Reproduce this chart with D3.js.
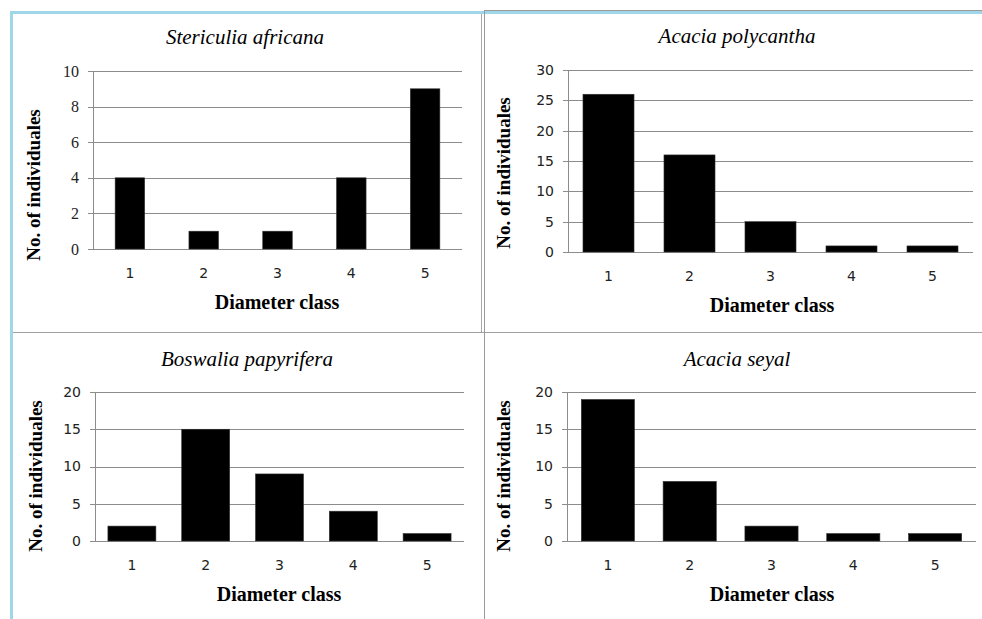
<!DOCTYPE html>
<html>
<head>
<meta charset="utf-8">
<script src="https://cdn.jsdelivr.net/npm/d3@7"></script>
<style>
  body { margin: 0; background: #fff; }
  svg { display: block; }
</style>
</head>
<body>
<div id="chart"></div>
<script>
const width = 982;
const height = 619;

// ---- data ----
const classes = ["1", "2", "3", "4", "5"];
const titles = ["Stericulia africana", "Acacia polycantha", "Boswalia papyrifera", "Acacia seyal"];
const sterculia = [4, 1, 1, 4, 9];
const polycantha = [26, 16, 5, 1, 1];
const boswalia = [2, 15, 9, 4, 1];
const seyal = [19, 8, 2, 1, 1];
const yMaxes = [10, 30, 20, 20];
const yTicks = [[0, 2, 4, 6, 8, 10], [0, 5, 10, 15, 20, 25, 30], [0, 5, 10, 15, 20], [0, 5, 10, 15, 20]];
const xTitle = "Diameter class";
const yTitle = "No. of individuales";

const series = [sterculia, polycantha, boswalia, seyal];

// layout of each panel (plot box in page pixels)
const panels = [
  {x0: 93, x1: 462, y0: 71, y1: 249, pad: 0.6, tickFont: "'Liberation Serif', serif", tickSize: 16, cx: 245, ty: 37, ax: 277, yt: 33, yc: 185},
  {x0: 568, x1: 973, y0: 70, y1: 252, pad: 0.37, tickFont: "'DejaVu Sans', sans-serif", tickSize: 14, cx: 737, ty: 36, ax: 772, yt: 503, yc: 173},
  {x0: 95, x1: 464, y0: 392, y1: 541, pad: 0.35, tickFont: "'DejaVu Sans', sans-serif", tickSize: 14, cx: 247, ty: 359, ax: 279, yt: 35, yc: 476},
  {x0: 567, x1: 976, y0: 392, y1: 541, pad: 0.35, tickFont: "'DejaVu Sans', sans-serif", tickSize: 14, cx: 737, ty: 359, ax: 772, yt: 503, yc: 476}
];

const svg = d3.select("#chart")
  .append("svg")
    .attr("width", width)
    .attr("height", height);

/* ---------------- frame lines ---------------- */
const frame = svg.append("g");
// gray top line on right half
frame.append("line").attr("x1", 484).attr("x2", 982).attr("y1", 10.5).attr("y2", 10.5)
  .attr("stroke", "#9a9a9a").attr("stroke-width", 1);
// blue top + left
frame.append("line").attr("x1", 10).attr("x2", 982).attr("y1", 12.5).attr("y2", 12.5)
  .attr("stroke", "#9fd6e8").attr("stroke-width", 3);
frame.append("line").attr("x1", 11.5).attr("x2", 11.5).attr("y1", 11).attr("y2", 619)
  .attr("stroke", "#9fd6e8").attr("stroke-width", 3);
// gray dividers
frame.append("line").attr("x1", 481.5).attr("x2", 481.5).attr("y1", 14).attr("y2", 332)
  .attr("stroke", "#a8a8a8").attr("stroke-width", 1);
frame.append("line").attr("x1", 484.5).attr("x2", 484.5).attr("y1", 11).attr("y2", 619)
  .attr("stroke", "#9a9a9a").attr("stroke-width", 1);
frame.append("line").attr("x1", 13).attr("x2", 982).attr("y1", 332.5).attr("y2", 332.5)
  .attr("stroke", "#a0a0a0").attr("stroke-width", 1);

/* ---------------- panels ---------------- */
panels.forEach(function(p, i) {
  const g = svg.append("g");
  const x = d3.scaleBand().domain(classes).range([p.x0, p.x1]).paddingInner(p.pad).paddingOuter(p.pad / 2);
  const y = d3.scaleLinear().domain([0, yMaxes[i]]).range([p.y1, p.y0]);

  // gridlines
  g.selectAll(".grid")
    .data(yTicks[i])
    .join("line")
      .attr("class", "grid")
      .attr("x1", p.x0 - 5)
      .attr("x2", p.x1)
      .attr("y1", d => Math.round(y(d)) + 0.5)
      .attr("y2", d => Math.round(y(d)) + 0.5)
      .attr("stroke", "#8c8c8c")
      .attr("stroke-width", 1);

  // y axis line
  g.append("line")
    .attr("x1", p.x0 + 0.5).attr("x2", p.x0 + 0.5)
    .attr("y1", p.y0).attr("y2", p.y1)
    .attr("stroke", "#8c8c8c");

  // y tick labels
  g.selectAll(".ytick")
    .data(yTicks[i])
    .join("text")
      .attr("class", "ytick")
      .attr("x", p.x0 - 14)
      .attr("y", d => y(d))
      .attr("dy", "0.35em")
      .attr("text-anchor", "end")
      .style("font-family", p.tickFont)
      .style("font-size", p.tickSize + "px")
      .attr("fill", "#222")
      .text(d => d);

  // bars
  g.selectAll(".bar")
    .data(series[i])
    .join("rect")
      .attr("class", "bar")
      .attr("x", (d, j) => x(classes[j]))
      .attr("width", x.bandwidth())
      .attr("y", d => y(d))
      .attr("height", d => y(0) - y(d))
      .attr("fill", "#000")
      .attr("stroke", "#333")
      .attr("stroke-width", 0.6);

  // x tick labels
  g.selectAll(".xtick")
    .data(classes)
    .join("text")
      .attr("class", "xtick")
      .attr("x", d => x(d) + x.bandwidth() / 2)
      .attr("y", p.y1 + 24)
      .attr("dy", "0.35em")
      .attr("text-anchor", "middle")
      .style("font-family", "'DejaVu Sans', sans-serif")
      .style("font-size", "14px")
      .attr("fill", "#222")
      .text(d => d);

  // chart title
  g.append("text")
    .attr("x", p.cx)
    .attr("y", p.ty)
    .attr("dy", "0.35em")
    .attr("text-anchor", "middle")
    .style("font-family", "'Liberation Serif', serif")
    .style("font-style", "italic")
    .style("font-size", "21px")
    .text(titles[i]);

  // x axis title
  g.append("text")
    .attr("x", p.ax)
    .attr("y", p.y1 + 53)
    .attr("dy", "0.35em")
    .attr("text-anchor", "middle")
    .style("font-family", "'Liberation Serif', serif")
    .style("font-weight", "bold")
    .style("font-size", "20px")
    .text(xTitle);

  // y axis title
  g.append("text")
    .attr("transform", `translate(${p.yt},${p.yc}) rotate(-90)`)
    .attr("dy", "0.35em")
    .attr("text-anchor", "middle")
    .style("font-family", "'Liberation Serif', serif")
    .style("font-weight", "bold")
    .style("font-size", "19px")
    .text(yTitle);
});
</script>
</body>
</html>
